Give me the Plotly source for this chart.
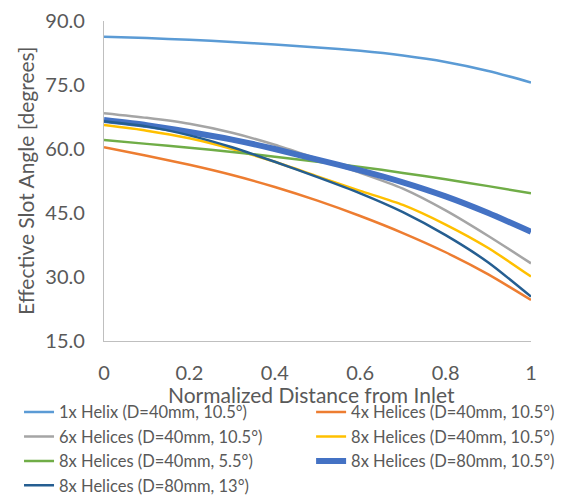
import plotly.graph_objects as go

x_vals = [0, 0.1, 0.2, 0.3, 0.4, 0.5, 0.6, 0.7, 0.8, 0.9, 1.0]

helix_1x_40_105 = [86.3, 86.0, 85.6, 85.1, 84.5, 83.8, 83.0, 81.9, 80.4, 78.3, 75.6]
helix_4x_40_105 = [60.4, 58.4, 56.3, 53.9, 51.1, 47.9, 44.3, 40.3, 35.8, 30.6, 24.6]
helix_6x_40_105 = [68.4, 67.3, 65.9, 63.8, 61.0, 57.7, 54.4, 50.7, 45.6, 39.6, 33.2]
helix_8x_40_105 = [65.6, 64.3, 62.5, 60.0, 57.0, 53.6, 50.2, 46.9, 42.3, 36.8, 30.1]
helix_8x_40_55 = [62.1, 61.2, 60.3, 59.3, 58.2, 57.0, 55.8, 54.4, 52.9, 51.3, 49.6]
helix_8x_80_105 = [66.8, 65.6, 64.0, 62.2, 60.0, 57.5, 55.0, 52.2, 48.9, 45.0, 40.6]
helix_8x_80_13 = [66.5, 65.3, 63.2, 60.4, 57.0, 53.4, 49.6, 45.2, 39.8, 33.4, 25.4]

series_names = [
    "1x Helix (D=40mm, 10.5°)",
    "4x Helices (D=40mm, 10.5°)",
    "6x Helices (D=40mm, 10.5°)",
    "8x Helices (D=40mm, 10.5°)",
    "8x Helices (D=40mm, 5.5°)",
    "8x Helices (D=80mm, 10.5°)",
    "8x Helices (D=80mm, 13°)",
]
series_values = [helix_1x_40_105, helix_4x_40_105, helix_6x_40_105, helix_8x_40_105,
                 helix_8x_40_55, helix_8x_80_105, helix_8x_80_13]
series_colors = ["#5B9BD5", "#ED7D31", "#A5A5A5", "#FFC000", "#70AD47", "#4472C4", "#255E91"]
series_widths = [2.5, 2.5, 2.5, 2.5, 2.5, 6, 2.5]
# legend column for each series (reference shows a two-column legend)
series_legend = ["legend", "legend2", "legend", "legend2", "legend", "legend2", "legend"]

y_ticks = [15, 30, 45, 60, 75, 90]
x_ticks = [0, 0.2, 0.4, 0.6, 0.8, 1]
x_tick_labels = ["0", "0.2", "0.4", "0.6", "0.8", "1"]
x_title = "Normalized Distance from Inlet"
y_title = "Effective Slot Angle [degrees]"

FONT = "Lato, 'Open Sans', sans-serif"
TXT = "#595959"

fig = go.Figure()
for name, vals, col, w, lg in zip(series_names, series_values, series_colors, series_widths, series_legend):
    fig.add_trace(go.Scatter(x=x_vals, y=vals, mode="lines", name=name, legend=lg,
                             line=dict(color=col, width=w, shape="spline", smoothing=0.6)))

legend_common = dict(orientation="v", xanchor="left", yanchor="top", itemwidth=30,
                     font=dict(size=16.5, color=TXT, family=FONT), bgcolor="rgba(0,0,0,0)",
                     traceorder="normal")

fig.update_layout(
    width=560, height=488,
    margin=dict(l=96, r=37, t=13, b=155, autoexpand=False),
    paper_bgcolor="white", plot_bgcolor="white",
    font=dict(family=FONT, color=TXT),
    showlegend=True,
    legend=dict(x=-0.199, y=-0.168, **legend_common),
    legend2=dict(x=0.485, y=-0.168, **legend_common),
    xaxis=dict(range=[0, 1], tickvals=x_ticks, ticktext=x_tick_labels,
               showgrid=False, zeroline=False, showline=True, linecolor="#BFBFBF", linewidth=1.3,
               ticks="", ticklabelstandoff=14, tickfont=dict(size=20, color=TXT)),
    yaxis=dict(range=[15, 90], tickvals=y_ticks, tickformat=".1f",
               showgrid=False, zeroline=False, showline=True, linecolor="#BFBFBF", linewidth=1.3,
               ticks="", ticklabelstandoff=14, tickfont=dict(size=20, color=TXT)),
)

fig.add_annotation(text=x_title, xref="paper", yref="paper", x=0.485, y=-0.168,
                   xanchor="center", yanchor="middle", showarrow=False,
                   font=dict(size=21, color=TXT, family=FONT))
fig.add_annotation(text=y_title, xref="paper", yref="paper", x=-0.185, y=0.5,
                   xanchor="center", yanchor="middle", showarrow=False, textangle=-90,
                   font=dict(size=21, color=TXT, family=FONT))

fig.write_html("out.html")
